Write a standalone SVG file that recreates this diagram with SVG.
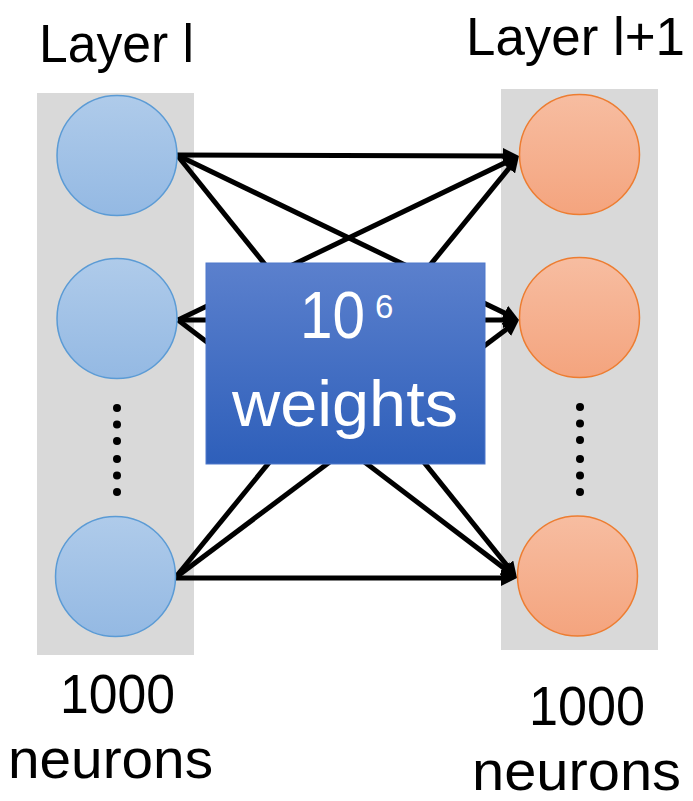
<svg xmlns="http://www.w3.org/2000/svg" width="693" height="801" viewBox="0 0 693 801">
  <style>
    .lbl { font-family: "Liberation Sans", Arial, sans-serif; fill: #000; }
    .panel { fill: #d9d9d9; }
    .inN { fill: url(#gBlue); stroke: #5b9bd5; stroke-width: 1.5; }
    .outN { fill: url(#gOrange); stroke: #ed7d31; stroke-width: 1.5; }
    .dot { fill: #000; }
    .edge { stroke: #000; stroke-width: 5; fill: none; marker-end: url(#head); }
    .wtxt { font-family: "Liberation Sans", Arial, sans-serif; fill: #fff; }
  </style>
  <defs>
    <linearGradient id="gBlue" x1="0" y1="0" x2="0" y2="1">
      <stop offset="0" stop-color="#afcbea"/>
      <stop offset="1" stop-color="#94b9e3"/>
    </linearGradient>
    <linearGradient id="gOrange" x1="0" y1="0" x2="0" y2="1">
      <stop offset="0" stop-color="#f7bda1"/>
      <stop offset="1" stop-color="#f4a47e"/>
    </linearGradient>
    <linearGradient id="gBox" x1="0" y1="0" x2="0" y2="1">
      <stop offset="0" stop-color="#5b80cd"/>
      <stop offset="1" stop-color="#2e5fba"/>
    </linearGradient>
    <marker id="head" viewBox="0 0 16 16" refX="8" refY="8" markerWidth="16" markerHeight="16" markerUnits="userSpaceOnUse" orient="auto">
      <path d="M0,0 L16,8 L0,16 z" fill="#000"/>
    </marker>
  </defs>

  <!-- layer backgrounds -->
  <rect class="panel" x="37" y="93" width="157" height="562"/>
  <rect class="panel" x="501" y="89" width="157" height="561"/>

  <!-- headings -->
  <text class="lbl" x="39" y="62" font-size="54" textLength="155" lengthAdjust="spacingAndGlyphs">Layer l</text>
  <text class="lbl" x="466" y="55" font-size="54" textLength="219" lengthAdjust="spacingAndGlyphs">Layer l+1</text>

  <!-- connectors: every neuron of layer l to every neuron of layer l+1 -->
  <g id="connectors">
    <line class="edge" x1="177" y1="155" x2="511" y2="156"/>
    <line class="edge" x1="177" y1="155" x2="511.8" y2="316.5"/>
    <line class="edge" x1="177" y1="155" x2="512" y2="571.8"/>
    <line class="edge" x1="178" y1="320" x2="511.8" y2="159.5"/>
    <line class="edge" x1="178" y1="320" x2="511" y2="320"/>
    <line class="edge" x1="178" y1="320" x2="510.6" y2="573.2"/>
    <line class="edge" x1="175" y1="578" x2="513.9" y2="162.2"/>
    <line class="edge" x1="175" y1="578" x2="512.6" y2="324.8"/>
    <line class="edge" x1="175" y1="578" x2="509" y2="578"/>
  </g>

  <!-- input layer -->
  <g id="in1"><circle class="inN" cx="117" cy="155.5" r="60"/></g>
  <g id="in2"><circle class="inN" cx="117" cy="318.5" r="60"/></g>
  <g id="inDots">
    <circle class="dot" cx="117" cy="408" r="4"/>
    <circle class="dot" cx="117" cy="424.5" r="4"/>
    <circle class="dot" cx="117" cy="441" r="4"/>
    <circle class="dot" cx="117" cy="459" r="4"/>
    <circle class="dot" cx="117" cy="475.5" r="4"/>
    <circle class="dot" cx="117" cy="492" r="4"/>
  </g>
  <g id="in3"><circle class="inN" cx="115.5" cy="576.5" r="60"/></g>

  <!-- output layer -->
  <g id="out1"><circle class="outN" cx="579.5" cy="154.5" r="60"/></g>
  <g id="out2"><circle class="outN" cx="579.5" cy="317.5" r="60"/></g>
  <g id="outDots">
    <circle class="dot" cx="580" cy="407" r="4"/>
    <circle class="dot" cx="580" cy="423.5" r="4"/>
    <circle class="dot" cx="580" cy="440" r="4"/>
    <circle class="dot" cx="580" cy="459" r="4"/>
    <circle class="dot" cx="580" cy="475.5" r="4"/>
    <circle class="dot" cx="580" cy="492" r="4"/>
  </g>
  <g id="out3"><circle class="outN" cx="577.5" cy="576" r="60"/></g>

  <!-- weight matrix box -->
  <g id="weights">
    <rect x="206" y="263" width="279" height="201" fill="url(#gBox)" stroke="#4f78cb" stroke-width="1"/>
    <text class="wtxt" y="338"><tspan x="300" font-size="66" textLength="65" lengthAdjust="spacingAndGlyphs">10</tspan><tspan x="375" y="318" font-size="33">6</tspan></text>
    <text class="wtxt" x="232" y="426" font-size="65" textLength="226" lengthAdjust="spacingAndGlyphs">weights</text>
  </g>

  <!-- layer sizes -->
  <text class="lbl" x="60" y="713" font-size="55" textLength="115" lengthAdjust="spacingAndGlyphs">1000</text>
  <text class="lbl" x="8" y="778" font-size="56" textLength="205" lengthAdjust="spacingAndGlyphs">neurons</text>
  <text class="lbl" x="529" y="725" font-size="55" textLength="116" lengthAdjust="spacingAndGlyphs">1000</text>
  <text class="lbl" x="472" y="790" font-size="56" textLength="209" lengthAdjust="spacingAndGlyphs">neurons</text>
</svg>
